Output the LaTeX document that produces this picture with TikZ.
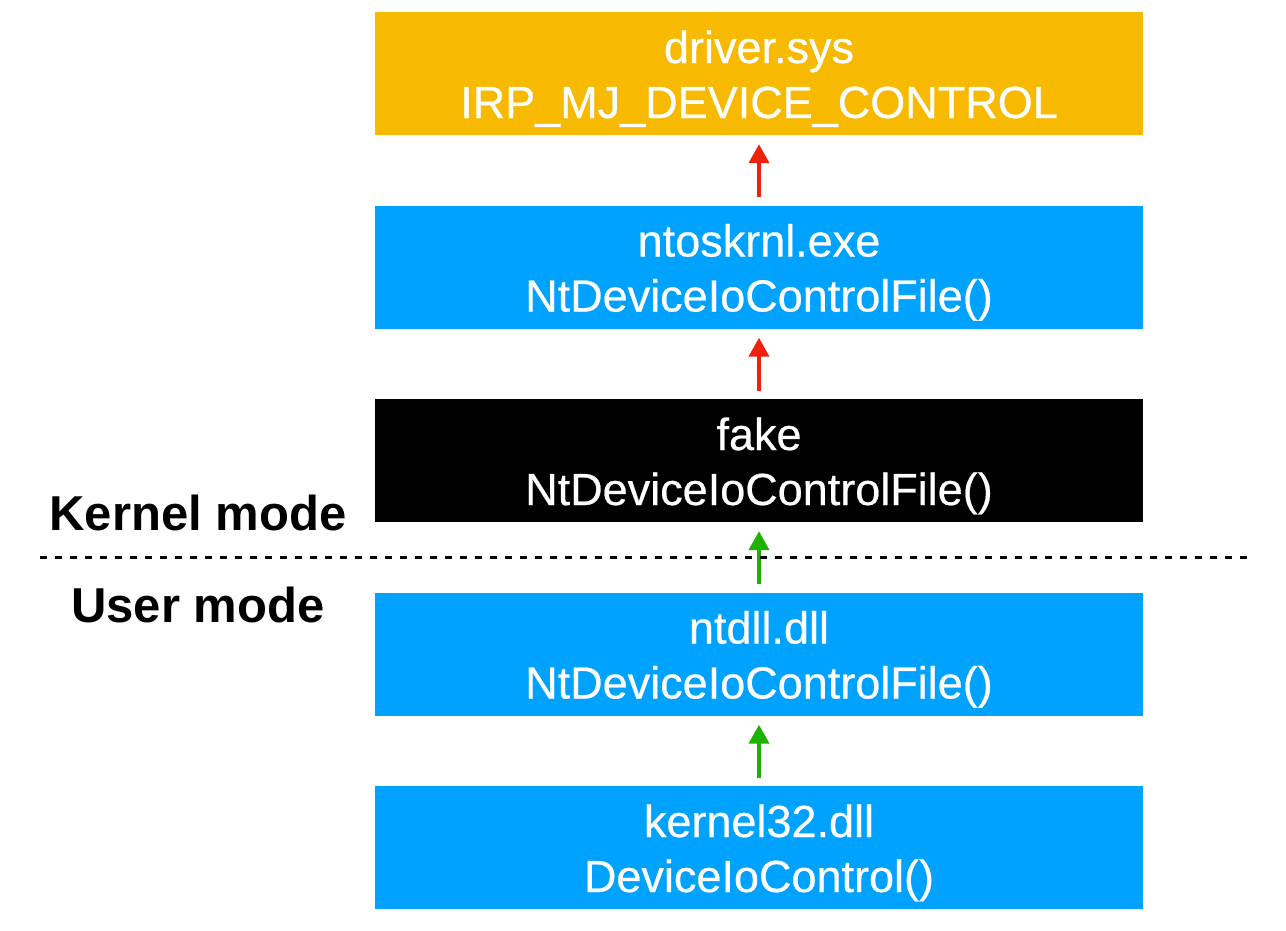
\documentclass[tikz,border=0pt]{standalone}
\usepackage{fontspec}
\setmainfont{Liberation Sans}
\newfontfamily\boxfont[FakeBold=0.5]{Liberation Sans}
\usetikzlibrary{arrows.meta}
\definecolor{korange}{HTML}{F8BA00}
\definecolor{kblue}{HTML}{00A2FF}
\definecolor{kred}{HTML}{EE220C}
\definecolor{kgreen}{HTML}{1DB100}
\tikzset{
  layer/.style={fill=#1, draw=none, minimum width=768pt, minimum height=123pt,
    inner sep=0pt, text=white, align=center, text width=760pt,
    font=\boxfont\fontsize{45}{55}\selectfont,
    execute at begin node={\rule{0pt}{46pt}},
    execute at end node={\rule[-12pt]{0pt}{12pt}}},
  callarrow/.style={draw=#1, line width=4pt, -{Triangle[width=20pt,length=19pt]},
    shorten <=8pt, shorten >=9pt},
  modelabel/.style={font=\fontsize{49}{56}\selectfont\bfseries, inner sep=0pt, anchor=base},
  boundary/.style={line width=3pt, dash pattern=on 7pt off 8pt}
}
\begin{document}
\begin{tikzpicture}[x=1pt,y=-1pt]
\useasboundingbox (0,0) rectangle (1286,930);
\node[layer=korange] (drv) at (759,73.5) {driver.sys\\IRP\_MJ\_DEVICE\_CONTROL};
\node[layer=kblue] (nt) at (759,267) {ntoskrnl.exe\\NtDeviceIoControlFile()};
\node[layer=black] (fake) at (759,460.5) {fake\\NtDeviceIoControlFile()};
\node[layer=kblue] (ntdll) at (759,654) {ntdll.dll\\NtDeviceIoControlFile()};
\node[layer=kblue] (k32) at (759,847.5) {kernel32.dll\\DeviceIoControl()};
\draw[callarrow=kred] (nt.north) -- (drv.south);
\draw[callarrow=kred] (fake.north) -- (nt.south);
\draw[callarrow=kgreen] (ntdll.north) -- (fake.south);
\draw[callarrow=kgreen] (k32.north) -- (ntdll.south);
\coordinate (bl) at (40,557);
\coordinate (br) at (1252,557);
\draw[boundary] (bl) -- (br);
\node[modelabel] (kern) at (198,530) {Kernel mode};
\node[modelabel] (user) at (198,622) {User mode};
\end{tikzpicture}
\end{document}
